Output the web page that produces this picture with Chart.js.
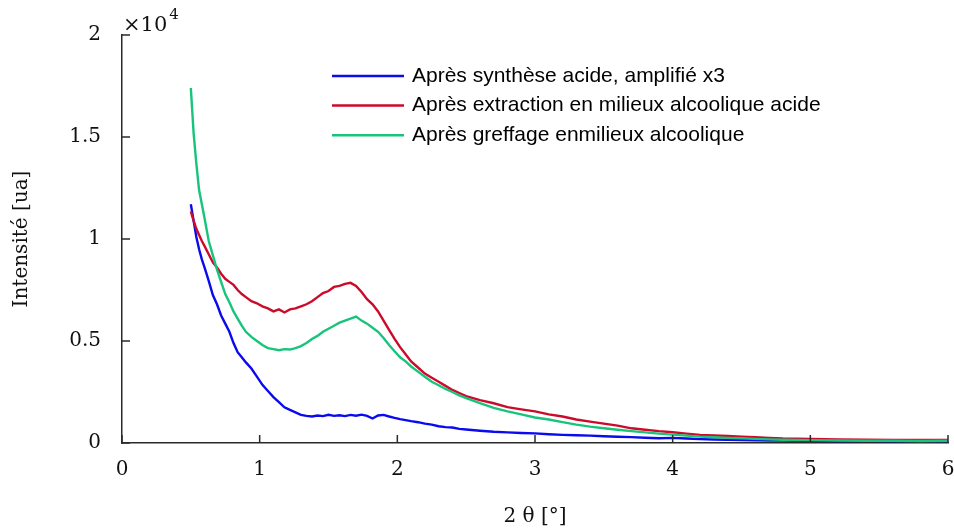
<!DOCTYPE html>
<html>
<head>
<meta charset="utf-8">
<script src="https://cdn.jsdelivr.net/npm/chart.js@4.4.0/dist/chart.umd.min.js"></script>
<style>
  body { margin: 0; background: #fff; }
</style>
</head>
<body>
<canvas id="chartDRX" width="954" height="532"></canvas>
<script>
// 2 theta [deg]
const twoTheta = [
  0.50, 0.52, 0.54, 0.56, 0.58, 0.60,
  0.63, 0.66, 0.69, 0.72, 0.75, 0.78, 0.81, 0.84, 0.87, 0.90,
  0.94, 0.98, 1.02, 1.06, 1.10, 1.14, 1.18, 1.22, 1.26, 1.30,
  1.34, 1.38, 1.42, 1.46, 1.50, 1.54, 1.58, 1.62, 1.66, 1.70,
  1.74, 1.78, 1.82, 1.86, 1.90, 1.94, 1.98, 2.02, 2.06, 2.10,
  2.15, 2.20, 2.25, 2.30, 2.35, 2.40, 2.45, 2.50,
  2.60, 2.70, 2.80, 2.90, 3.00, 3.10, 3.20, 3.30, 3.40, 3.50,
  3.60, 3.70, 3.80, 3.90, 4.00, 4.10, 4.20, 4.30, 4.40, 4.50,
  4.60, 4.70, 4.80, 4.90, 5.00,
  5.20, 5.40, 5.60, 5.80, 6.00,
];

const intensitySynthese = [
  11700, 10900, 10100, 9500, 9000, 8600,
  7950, 7250, 6800, 6250, 5850, 5450, 4900, 4450, 4200, 3950,
  3650, 3250, 2850, 2550, 2250, 2000, 1750, 1620, 1500, 1380,
  1330, 1300, 1350, 1320, 1380, 1330, 1360, 1320, 1380, 1340,
  1390, 1330, 1200, 1350, 1380, 1300, 1230, 1170, 1120, 1070,
  1020, 950, 900, 820, 780, 760, 690, 660,
  600, 550, 520, 490, 470, 430, 400, 380, 360, 330,
  310, 290, 260, 230, 250, 220, 190, 170, 160, 150,
  130, 120, 120, 110, 110,
  100, 110, 100, 110, 100,
];

const intensityExtraction = [
  11350, 10900, 10500, 10200, 9900, 9650,
  9250, 8850, 8600, 8300, 8050, 7900, 7750, 7500, 7300, 7150,
  6950, 6850, 6700, 6600, 6450, 6550, 6400, 6550, 6600, 6700,
  6800, 6950, 7150, 7350, 7450, 7650, 7700, 7800, 7850, 7700,
  7400, 7050, 6800, 6450, 6000, 5550, 5100, 4700, 4350, 4000,
  3700, 3400, 3200, 3000, 2800, 2600, 2450, 2300,
  2100, 1950, 1760, 1650, 1550, 1400, 1300, 1150, 1050, 950,
  850, 720, 650, 580, 530, 460, 400, 370, 340, 310,
  280, 250, 220, 210, 200,
  180, 160, 150, 150, 150,
];

const intensityGreffage = [
  17400, 15200, 13700, 12400, 11700, 11000,
  9900, 9200, 8500, 7900, 7300, 6900, 6450, 6100, 5750, 5450,
  5200, 5000, 4800, 4650, 4600, 4550, 4600, 4580, 4650, 4750,
  4900, 5100, 5250, 5450, 5600, 5750, 5900, 6000, 6100, 6200,
  6000, 5850, 5650, 5450, 5150, 4800, 4500, 4200, 4000, 3750,
  3500, 3250, 3000, 2830, 2650, 2500, 2330, 2200,
  1950, 1720, 1550, 1400, 1250, 1150, 1020, 900, 800, 720,
  650, 580, 520, 460, 410, 360, 310, 280, 250, 230,
  200, 180, 160, 150, 140,
  120, 110, 110, 100, 110,
];

const seriesLabels = [
  "Après synthèse acide, amplifié x3",
  "Après extraction en milieux alcoolique acide",
  "Après greffage enmilieux alcoolique",
];
const seriesColors = ["#0a0aee", "#cc0a2a", "#18c47c"];
const yTicks = [0, 5000, 10000, 15000, 20000];

const axisColor = "#2a2a2a";
const serif = "'DejaVu Serif', 'Liberation Serif', serif";
const sans = "'Liberation Sans', Arial, sans-serif";

function toPoints(values) {
  return twoTheta.map((x, i) => ({ x: x, y: values[i] }));
}

// ticks pointing inside the plot, like matlab
const insideTicks = {
  id: "insideTicks",
  afterDraw(chart) {
    const c = chart.ctx;
    const area = chart.chartArea;
    c.save();
    c.strokeStyle = axisColor;
    c.lineWidth = 1.5;
    chart.scales.x.ticks.forEach((t) => {
      const px = chart.scales.x.getPixelForValue(t.value);
      c.beginPath();
      c.moveTo(px, area.bottom);
      c.lineTo(px, area.bottom - 8);
      c.stroke();
    });
    chart.scales.y.ticks.forEach((t) => {
      const py = chart.scales.y.getPixelForValue(t.value);
      c.beginPath();
      c.moveTo(area.left, py);
      c.lineTo(area.left + 8, py);
      c.stroke();
    });
    c.restore();
  },
};

const exponentLabel = {
  id: "exponentLabel",
  afterDraw(chart) {
    const c = chart.ctx;
    const area = chart.chartArea;
    c.save();
    c.fillStyle = "#111";
    c.textBaseline = "alphabetic";
    c.font = "21px " + serif;
    const base = "\u00d710";
    c.fillText(base, area.left + 1, area.top - 4);
    const w = c.measureText(base).width;
    c.font = "15px " + serif;
    c.fillText("4", area.left + 3 + w, area.top - 16);
    c.restore();
  },
};

const innerLegend = {
  id: "innerLegend",
  afterDraw(chart) {
    const c = chart.ctx;
    c.save();
    c.font = "21px " + sans;
    c.textBaseline = "middle";
    chart.data.datasets.forEach((ds, i) => {
      const y = 76 + i * 29.6;
      c.strokeStyle = ds.borderColor;
      c.lineWidth = 2.5;
      c.beginPath();
      c.moveTo(332, y);
      c.lineTo(404, y);
      c.stroke();
      c.fillStyle = "#000";
      c.fillText(ds.label, 412, y);
    });
    c.restore();
  },
};

const ctx = document.getElementById("chartDRX").getContext("2d");

let chartDRX = new Chart(ctx, {
  type: "line",
  data: {
    datasets: [
      {
        label: seriesLabels[0],
        data: toPoints(intensitySynthese),
        borderColor: seriesColors[0],
        order: 3,
      },
      {
        label: seriesLabels[1],
        data: toPoints(intensityExtraction),
        borderColor: seriesColors[1],
        order: 2,
      },
      {
        label: seriesLabels[2],
        data: toPoints(intensityGreffage),
        borderColor: seriesColors[2],
        order: 1,
      },
    ],
  },
  options: {
    responsive: false,
    animation: false,
    layout: {
      padding: { top: 35, right: 6, left: 0, bottom: 0 },
    },
    elements: {
      point: { radius: 0 },
      line: { borderWidth: 2.4, tension: 0 },
    },
    plugins: {
      legend: { display: false },
      tooltip: { enabled: false },
    },
    scales: {
      x: {
        type: "linear",
        min: 0,
        max: 6,
        ticks: {
          stepSize: 1,
          padding: 15,
          color: "#111",
          font: { family: serif, size: 20 },
        },
        grid: { display: false, drawTicks: false },
        border: { display: true, color: axisColor, width: 1.5 },
        title: {
          display: true,
          text: "2 θ [°]",
          color: "#111",
          font: { family: serif, size: 20 },
          padding: { top: 0, bottom: 3 },
        },
        afterFit(scale) {
          scale.height = 89;
          scale.paddingLeft = 0;
          scale.paddingRight = 0;
        },
      },
      y: {
        min: 0,
        max: 20000,
        afterBuildTicks(scale) {
          scale.ticks = yTicks.map((v) => ({ value: v }));
        },
        ticks: {
          padding: 21,
          color: "#111",
          font: { family: serif, size: 20 },
          callback: (value) => (value / 10000).toString(),
        },
        grid: { display: false, drawTicks: false },
        border: { display: true, color: axisColor, width: 1.5 },
        title: {
          display: true,
          text: "Intensité [ua]",
          color: "#111",
          font: { family: serif, size: 20 },
          padding: { top: 10, bottom: 0 },
        },
        afterFit(scale) {
          scale.width = 122;
          scale.paddingTop = 0;
          scale.paddingBottom = 0;
        },
      },
    },
  },
  plugins: [insideTicks, exponentLabel, innerLegend],
});
</script>
</body>
</html>
